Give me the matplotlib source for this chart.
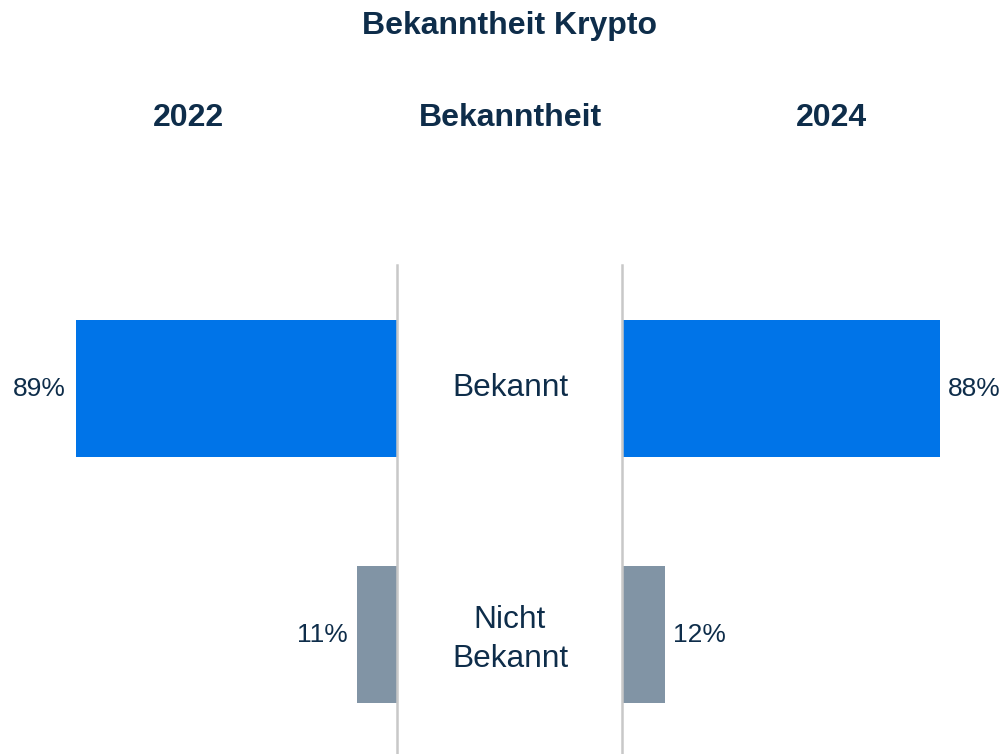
import matplotlib
matplotlib.use("Agg")
import matplotlib.pyplot as plt
import matplotlib.transforms as mtransforms

plt.rcParams['font.family'] = ['Liberation Sans', 'DejaVu Sans']

# data
categories = ['Bekannt', 'Nicht\nBekannt']
values_2022 = [89, 11]
values_2024 = [88, 12]
bar_colors = ['#0074E8', '#8194A5']

text_color = '#0E2D4A'
line_color = '#C8C8C8'

W, H = 1004, 754
fig = plt.figure(figsize=(W / 100, H / 100), dpi=100)

ax_l = fig.add_axes([36 / W, 0, 361 / W, 489 / H])
ax_r = fig.add_axes([622 / W, 0, 361 / W, 489 / H])

ypos = list(range(len(categories)))

for ax, vals in [(ax_l, values_2022), (ax_r, values_2024)]:
    ax.barh(ypos, vals, height=0.557, color=bar_colors)
    ax.set_xlim(0, 100)
    ax.set_ylim(1.486, -0.502)
    ax.set_xticks([])
    ax.set_yticks([])
    for s in ax.spines.values():
        s.set_visible(False)

ax_l.invert_xaxis()
ax_l.spines['right'].set_visible(True)
ax_l.spines['right'].set_color(line_color)
ax_l.spines['right'].set_linewidth(1.8)
ax_r.spines['left'].set_visible(True)
ax_r.spines['left'].set_color(line_color)
ax_r.spines['left'].set_linewidth(1.8)


def nudge(px):
    # shift text down by px pixels
    return mtransforms.ScaledTranslation(0, -px / 100, fig.dpi_scale_trans)


# value labels
for y, v in zip(ypos, values_2022):
    ax_l.text(v + 2.7, y, f'{v}%', ha='right', va='center', fontsize=19,
              color=text_color, transform=ax_l.transData + nudge(1))
for y, v in zip(ypos, values_2024):
    ax_r.text(v + 2.2, y, f'{v}%', ha='left', va='center', fontsize=19,
              color=text_color, transform=ax_r.transData + nudge(1))

# category labels in the middle
trans = mtransforms.blended_transform_factory(fig.transFigure, ax_l.transData)
for y, c in zip(ypos, categories):
    off = 5 if '\n' in c else 0
    fig.text(510 / W, y, c, transform=trans + nudge(off), ha='center', va='center',
             fontsize=22.8, color=text_color, linespacing=1.4)

# titles
fig.text(510 / W, 1 - 26 / H, 'Bekanntheit Krypto', ha='center', va='center',
         fontsize=23, fontweight='bold', color=text_color)
for x, t in [(188.5, '2022'), (510, 'Bekanntheit'), (831, '2024')]:
    fig.text(x / W, 1 - 118 / H, t, ha='center', va='center',
             fontsize=23, fontweight='bold', color=text_color)

fig.savefig('out.png', dpi=100)
